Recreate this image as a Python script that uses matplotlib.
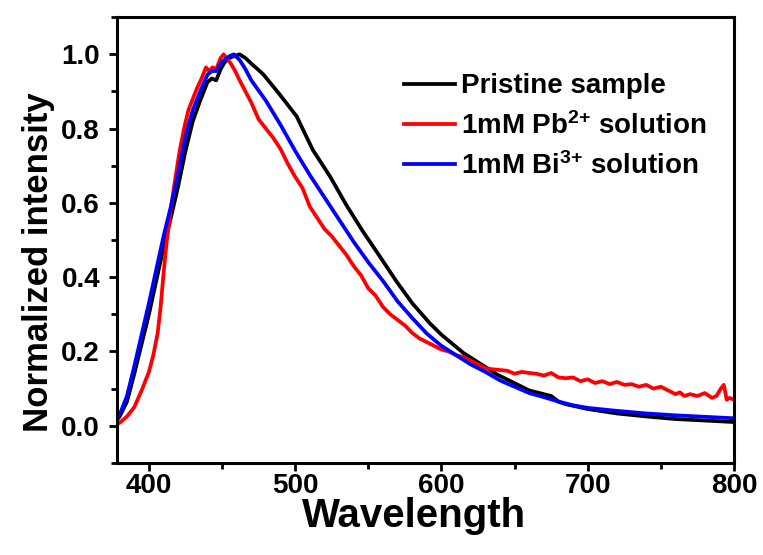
"""
Normalized PL spectra: pristine sample vs. samples treated with Pb2+ and Bi3+ solutions
"""

import matplotlib
matplotlib.use("Agg")
import matplotlib.pyplot as plt
from matplotlib.ticker import MultipleLocator

plt.rcParams["font.family"] = ["Liberation Sans", "DejaVu Sans"]
plt.rcParams["font.weight"] = "bold"
plt.rcParams["mathtext.fontset"] = "custom"
plt.rcParams["mathtext.rm"] = "Liberation Sans:bold"
plt.rcParams["mathtext.bf"] = "Liberation Sans:bold"
plt.rcParams["mathtext.default"] = "bf"

# --- data (wavelength in nm, normalized intensity) ---
pristine_wl = [378, 380, 385, 390, 395, 400, 405, 410, 415, 420, 425, 430, 435, 440,
               443, 446, 449, 452, 455, 458, 462, 466, 470, 478, 489, 501, 512, 524,
               535, 546, 558, 569, 580, 592, 600, 615, 638, 660, 675, 680, 685, 700,
               720, 740, 760, 780, 800]
pristine_int = [0.015, 0.025, 0.065, 0.14, 0.22, 0.30, 0.39, 0.48, 0.56, 0.645, 0.74,
                0.82, 0.875, 0.925, 0.935, 0.93, 0.96, 0.98, 0.99, 0.995, 1.0, 0.99,
                0.975, 0.947, 0.894, 0.833, 0.743, 0.67, 0.594, 0.525, 0.455, 0.39,
                0.33, 0.276, 0.245, 0.196, 0.138, 0.095, 0.08, 0.065, 0.058, 0.045,
                0.033, 0.025, 0.018, 0.014, 0.01]

pb_wl = [378, 380, 385, 390, 395, 400, 403, 406, 408, 410, 412, 415, 418, 421, 424,
         427, 430, 433, 436, 439, 441, 443.5, 446, 449, 451, 453, 456, 459, 462, 466,
         470, 475, 480, 485, 490, 495, 500, 505, 510, 515, 520, 525, 530, 535, 540,
         545, 550, 555, 560, 565, 570, 575, 580, 585, 590, 595, 600, 605, 610, 615,
         620, 625, 630, 635, 640, 645, 650, 655, 660, 665, 670, 675, 680, 685, 690,
         695, 700, 705, 710, 715, 720, 725, 730, 735, 740, 745, 750, 755, 760, 763,
         766, 770, 775, 780, 785, 788, 791, 793, 795, 797, 800]
pb_int = [0.003, 0.008, 0.025, 0.05, 0.095, 0.145, 0.19, 0.25, 0.32, 0.41, 0.49,
          0.585, 0.665, 0.74, 0.80, 0.85, 0.88, 0.91, 0.935, 0.965, 0.955, 0.965,
          0.96, 0.99, 1.0, 0.99, 0.975, 0.955, 0.93, 0.90, 0.87, 0.825, 0.80, 0.775,
          0.745, 0.705, 0.67, 0.64, 0.59, 0.56, 0.53, 0.51, 0.485, 0.46, 0.43, 0.405,
          0.37, 0.35, 0.32, 0.30, 0.285, 0.27, 0.25, 0.235, 0.225, 0.215, 0.205, 0.2,
          0.19, 0.185, 0.175, 0.165, 0.155, 0.152, 0.15, 0.148, 0.14, 0.145, 0.142,
          0.14, 0.135, 0.142, 0.13, 0.128, 0.13, 0.12, 0.125, 0.115, 0.12, 0.112,
          0.118, 0.11, 0.112, 0.105, 0.11, 0.10, 0.105, 0.095, 0.085, 0.09, 0.08,
          0.085, 0.08, 0.088, 0.075, 0.08, 0.10, 0.11, 0.07, 0.075, 0.07]

bi_wl = [378, 380, 385, 390, 395, 400, 405, 410, 415, 420, 425, 430, 435, 440, 443,
         446, 450, 455, 458, 462, 466, 470, 480, 490, 500, 510, 520, 530, 540, 550,
         560, 570, 580, 590, 600, 610, 620, 630, 640, 650, 660, 670, 680, 690, 700,
         720, 740, 760, 780, 800]
bi_int = [0.02, 0.03, 0.08, 0.16, 0.245, 0.33, 0.42, 0.51, 0.59, 0.68, 0.78, 0.85,
          0.90, 0.945, 0.955, 0.955, 0.98, 0.995, 1.0, 0.985, 0.96, 0.93, 0.875,
          0.81, 0.74, 0.675, 0.615, 0.555, 0.495, 0.44, 0.39, 0.335, 0.29, 0.248,
          0.215, 0.19, 0.165, 0.145, 0.122, 0.105, 0.088, 0.077, 0.065, 0.055,
          0.048, 0.04, 0.033, 0.028, 0.024, 0.02]

labels = ["Pristine sample", r"1mM Pb$^{2{+}}$ solution",
          r"1mM Bi$^{3{+}}$ solution"]
colors = ["black", "red", "blue"]


def plot_spectra():
    fig = plt.figure(figsize=(7.63, 5.55), dpi=100)
    ax = fig.add_axes([0.153, 0.166, 0.809, 0.803])

    ax.plot(pristine_wl, pristine_int, color=colors[0], lw=2.7, label=labels[0])
    ax.plot(pb_wl, pb_int, color=colors[1], lw=2.7, label=labels[1])
    ax.plot(bi_wl, bi_int, color=colors[2], lw=2.7, label=labels[2])

    ax.set_xlim(378, 800)
    ax.set_ylim(-0.1, 1.1)
    ax.xaxis.set_major_locator(MultipleLocator(100))
    ax.xaxis.set_minor_locator(MultipleLocator(50))
    ax.yaxis.set_major_locator(MultipleLocator(0.2))
    ax.yaxis.set_minor_locator(MultipleLocator(0.1))
    ax.yaxis.set_major_formatter(plt.FormatStrFormatter("%.1f"))

    for sp in ax.spines.values():
        sp.set_linewidth(2.2)
    ax.tick_params(which="both", direction="out", width=2.0, labelsize=20,
                   top=False, right=False)
    ax.tick_params(which="major", length=6)
    ax.tick_params(which="minor", length=4)
    ax.tick_params(axis="y", which="major", pad=6)
    ax.tick_params(axis="x", which="major", pad=1)

    ax.set_xlabel("Wavelength", fontsize=29, fontweight="bold")
    ax.xaxis.set_label_coords(0.482, -0.077)
    ax.set_ylabel("Normalized intensity", fontsize=25, fontweight="bold")
    ax.yaxis.set_label_coords(-0.1, 0.45)

    ax.legend(loc="upper left", bbox_to_anchor=(0.443, 0.905), frameon=False,
              fontsize=20, handlelength=1.85, handletextpad=0.2, labelspacing=0.45,
              borderpad=0)

    fig.savefig("out.png", dpi=100)


if __name__ == "__main__":
    plot_spectra()
